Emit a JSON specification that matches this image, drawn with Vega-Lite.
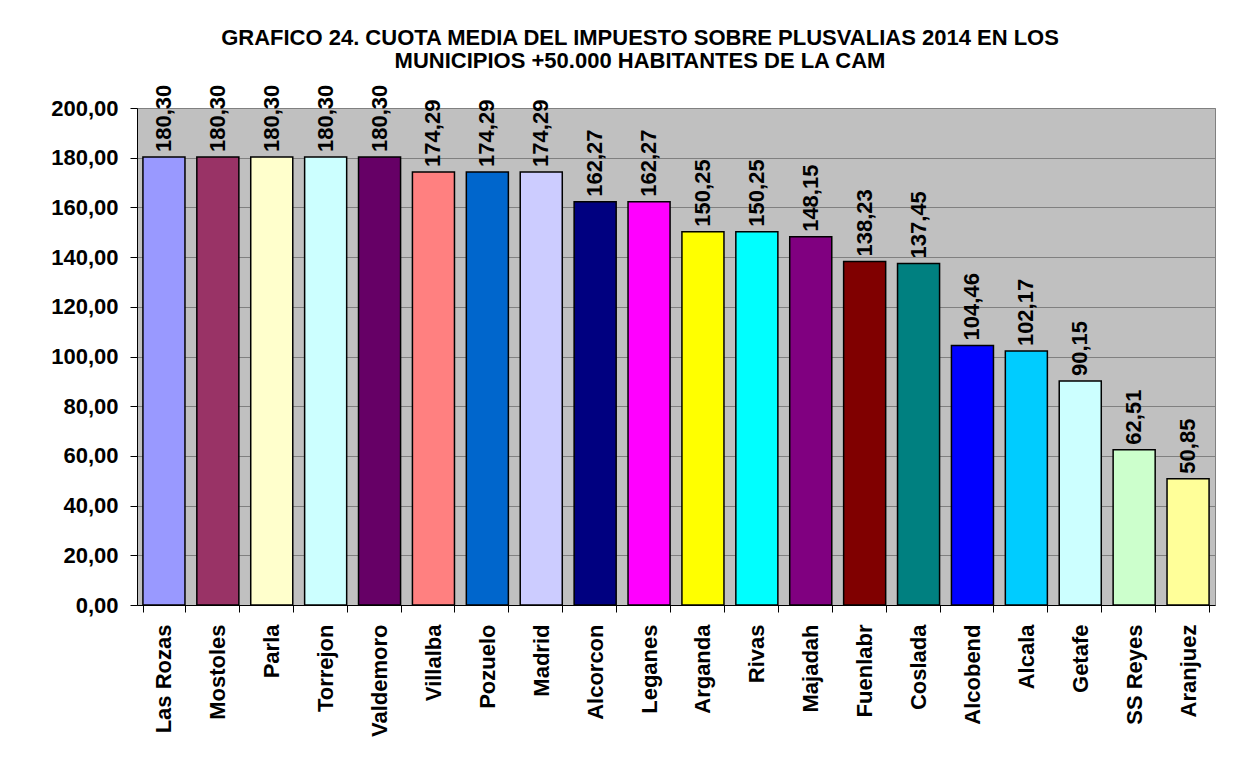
{
  "$schema": "https://vega.github.io/schema/vega-lite/v6.json",
  "autosize": {"type": "none"},
  "width": 1078,
  "height": 497,
  "padding": {"left": 137, "top": 108, "right": 21, "bottom": 176},
  "background": "#ffffff",
  "title": {
    "text": ["GRAFICO 24. CUOTA MEDIA DEL IMPUESTO SOBRE PLUSVALIAS 2014 EN LOS", "MUNICIPIOS +50.000 HABITANTES DE LA CAM"],
    "font": "Liberation Sans",
    "fontSize": 22,
    "fontWeight": "bold",
    "color": "#000000",
    "anchor": "middle",
    "dx": -36,
    "offset": 12,
    "lineHeight": 23
  },
  "data": {
    "values": [
      {"municipio": "Las Rozas", "cuota": 180.30},
      {"municipio": "Mostoles", "cuota": 180.30},
      {"municipio": "Parla", "cuota": 180.30},
      {"municipio": "Torrejon", "cuota": 180.30},
      {"municipio": "Valdemoro", "cuota": 180.30},
      {"municipio": "Villalba", "cuota": 174.29},
      {"municipio": "Pozuelo", "cuota": 174.29},
      {"municipio": "Madrid", "cuota": 174.29},
      {"municipio": "Alcorcon", "cuota": 162.27},
      {"municipio": "Leganes", "cuota": 162.27},
      {"municipio": "Arganda", "cuota": 150.25},
      {"municipio": "Rivas", "cuota": 150.25},
      {"municipio": "Majadah", "cuota": 148.15},
      {"municipio": "Fuenlabr", "cuota": 138.23},
      {"municipio": "Coslada", "cuota": 137.45},
      {"municipio": "Alcobend", "cuota": 104.46},
      {"municipio": "Alcala", "cuota": 102.17},
      {"municipio": "Getafe", "cuota": 90.15},
      {"municipio": "SS Reyes", "cuota": 62.51},
      {"municipio": "Aranjuez", "cuota": 50.85}
    ]
  },
  "transform": [
    {"calculate": "replace(format(datum.cuota, '.2f'), '.', ',')", "as": "etiqueta"}
  ],
  "encoding": {
    "x": {
      "field": "municipio",
      "type": "nominal",
      "sort": null,
      "title": null,
      "scale": {"paddingInner": 0.22, "paddingOuter": 0.11},
      "axis": {
        "labelAngle": -90,
        "labelAlign": "right",
        "labelBaseline": "middle",
        "labelFont": "Liberation Sans",
        "labelFontSize": 22,
        "labelFontWeight": "bold",
        "labelColor": "#000000",
        "labelPadding": 12,
        "tickBand": "extent",
        "tickSize": 7,
        "tickColor": "#000000",
        "domainColor": "#000000",
        "grid": false
      }
    },
    "y": {
      "field": "cuota",
      "type": "quantitative",
      "title": null,
      "scale": {"domain": [0, 200], "nice": false},
      "axis": {
        "values": [0, 20, 40, 60, 80, 100, 120, 140, 160, 180, 200],
        "labelExpr": "replace(format(datum.value, '.2f'), '.', ',')",
        "labelFont": "Liberation Sans",
        "labelFontSize": 22,
        "labelFontWeight": "bold",
        "labelColor": "#000000",
        "labelPadding": 12,
        "tickSize": 7,
        "tickColor": "#000000",
        "domainColor": "#000000",
        "grid": true,
        "gridColor": "#808080",
        "gridWidth": 1
      }
    }
  },
  "layer": [
    {
      "mark": {"type": "bar", "stroke": "#000000", "strokeWidth": 1.5},
      "encoding": {
        "color": {
          "field": "municipio",
          "type": "nominal",
          "legend": null,
          "scale": {
            "domain": ["Las Rozas", "Mostoles", "Parla", "Torrejon", "Valdemoro", "Villalba", "Pozuelo", "Madrid", "Alcorcon", "Leganes", "Arganda", "Rivas", "Majadah", "Fuenlabr", "Coslada", "Alcobend", "Alcala", "Getafe", "SS Reyes", "Aranjuez"],
            "range": ["#9999FF", "#993366", "#FFFFCC", "#CCFFFF", "#660066", "#FF8080", "#0066CC", "#CCCCFF", "#000080", "#FF00FF", "#FFFF00", "#00FFFF", "#800080", "#800000", "#008080", "#0000FF", "#00CCFF", "#CCFFFF", "#CCFFCC", "#FFFF99"]
          }
        }
      }
    },
    {
      "mark": {
        "type": "text",
        "angle": 270,
        "align": "left",
        "baseline": "middle",
        "dx": 5,
        "font": "Liberation Sans",
        "fontSize": 22,
        "fontWeight": "bold",
        "color": "#000000"
      },
      "encoding": {
        "text": {"field": "etiqueta"}
      }
    }
  ],
  "config": {
    "view": {"fill": "#C0C0C0", "stroke": "#808080", "strokeWidth": 1}
  }
}
